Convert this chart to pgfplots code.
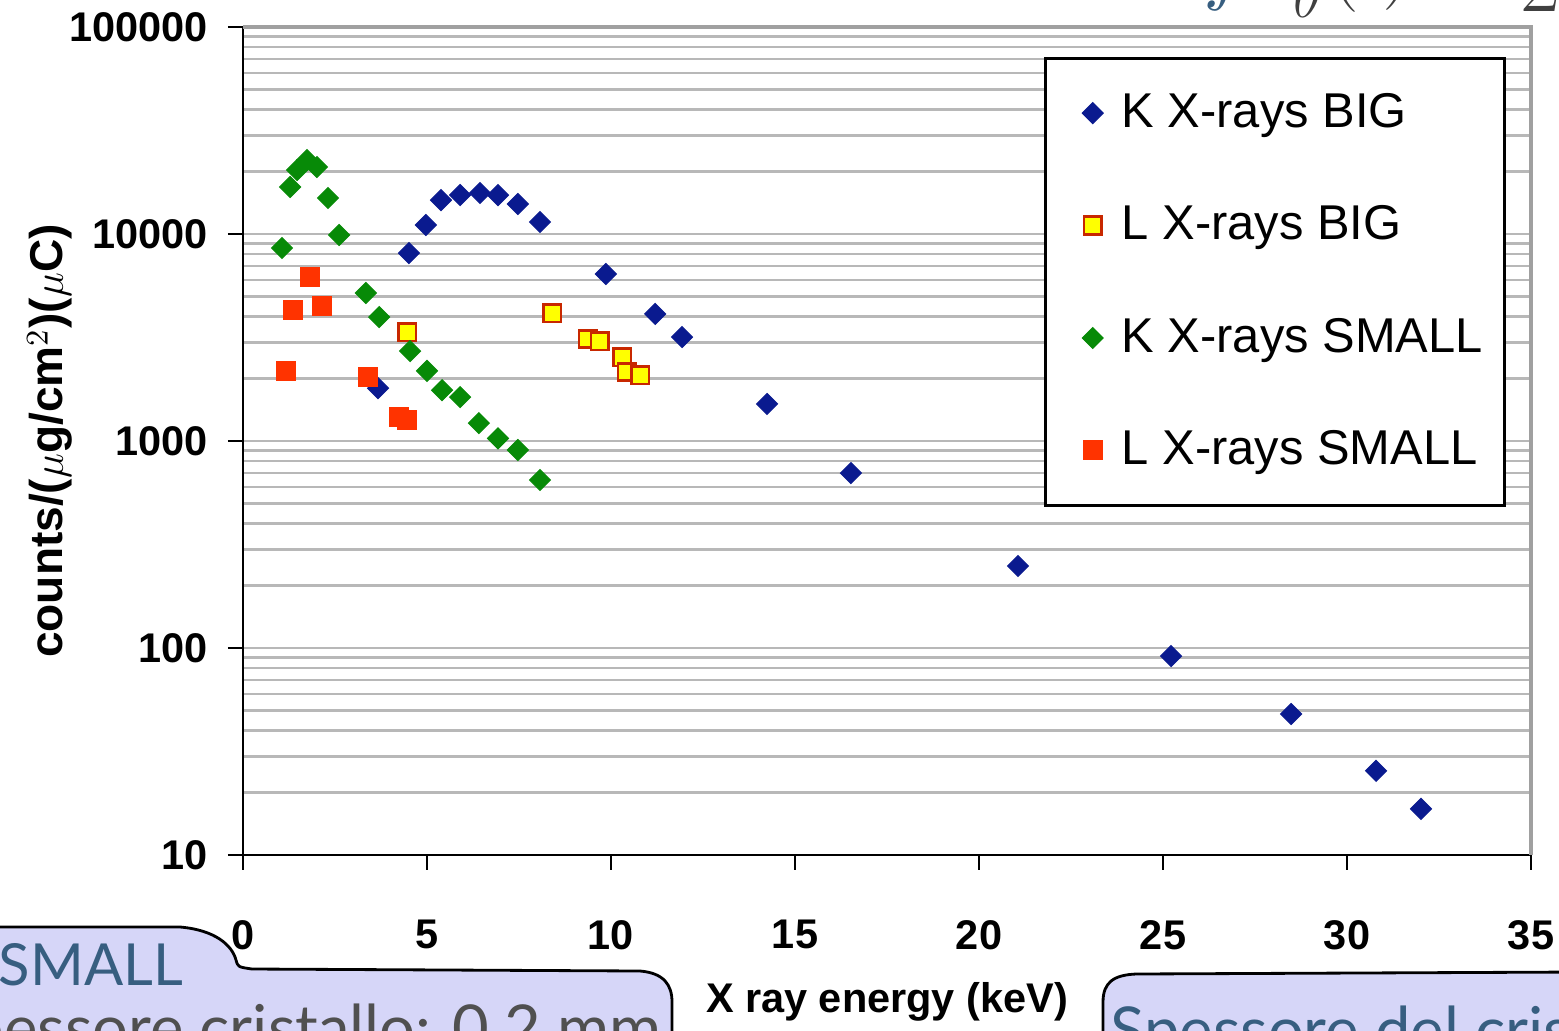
\documentclass[border=0pt]{standalone}
\usepackage{pgfplots}
\pgfplotsset{compat=1.18}
\usepackage{fontspec}
\setmainfont{Liberation Sans}
\newfontfamily\lato{Lato}

\definecolor{kbig}{HTML}{0A1A8F}
\definecolor{ksmall}{HTML}{078A07}
\definecolor{lsmall}{HTML}{FF3300}
\definecolor{lbigfill}{HTML}{FFFF00}
\definecolor{lbigedge}{HTML}{C82800}
\definecolor{gridgray}{HTML}{B8B8B8}
\definecolor{framegray}{HTML}{A0A0A0}
\definecolor{boxfill}{HTML}{D6D6F8}
\definecolor{slideblue}{HTML}{375E80}
\definecolor{slidegray}{HTML}{505050}
\definecolor{formulagray}{HTML}{404040}

% measured counts per (ug/cm^2)(uC) against X-ray energy in keV
\pgfplotstableread{
x y
3.67 1800
4.51 8090
4.97 11050
5.38 14590
5.90 15420
6.44 15780
6.93 15420
7.47 13960
8.07 11430
9.86 6410
11.20 4110
11.93 3180
14.24 1510
16.52 700
21.06 249
25.22 91.4
28.48 48
30.79 25.5
32.01 16.7
}\kbigdata

\pgfplotstableread{
x y
4.46 3360
8.40 4150
9.37 3110
9.70 3040
10.30 2545
10.43 2155
10.79 2080
}\lbigdata

\pgfplotstableread{
x y
1.06 8560
1.28 16870
1.47 20380
1.74 22770
2.01 21070
2.31 14930
2.61 9890
3.34 5190
3.70 3970
4.54 2720
5.00 2180
5.41 1760
5.90 1630
6.41 1220
6.93 1030
7.47 905
8.07 648
}\ksmalldata

\pgfplotstableread{
x y
1.17 2180
1.36 4300
1.82 6200
2.15 4490
3.40 2040
4.24 1306
4.46 1262
}\lsmalldata

\begin{document}
\begin{tikzpicture}
\useasboundingbox (0,0) rectangle (155.9mm,103mm);
\clip (0,0) rectangle (155.9mm,103mm);

\begin{axis}[
  at={(24.3mm,17.5mm)}, anchor=south west,
  width=128.8mm, height=82.8mm, scale only axis,
  xmin=0, xmax=35, ymode=log, ymin=10, ymax=100000,
  axis lines*=left,
  axis line style={black, line width=0.75pt},
  xtick={0,5,...,35}, xticklabels={0,5,10,15,20,25,30,35},
  ytick={10,100,1000,10000,100000},
  yticklabels={10,100,1000,10000,100000},
  tick align=outside, major tick length=1.5mm, minor tick length=0pt,
  tick style={black, line width=0.75pt},
  ymajorgrids, yminorgrids,
  major grid style={draw=gridgray, line width=0.8pt},
  minor grid style={draw=gridgray, line width=0.8pt},
  ticklabel style={font=\bfseries\fontsize{11.8}{12}\selectfont},
  xticklabel style={yshift=-3.8mm},
  yticklabel style={xshift=-0.8mm},
  xlabel={X ray energy (keV)},
  ylabel={counts/($\mu$g/cm$^{2}$)($\mu$C)},
  xlabel style={font=\bfseries\fontsize{11.8}{12}\selectfont,
    at={([yshift=-14.7mm]axis description cs:0.5,0)}, anchor=center},
  ylabel style={font=\bfseries\fontsize{13.1}{14}\selectfont,
    at={([xshift=-19.3mm]axis description cs:0,0.5)}, anchor=center},
  legend style={at={(rel axis cs:0.622,0.964)}, anchor=north west,
    draw=black, line width=0.9pt, fill=white,
    font=\fontsize{13.9}{17}\selectfont,
    inner xsep=1.5mm, inner ysep=2.8mm, row sep=5.9mm},
  legend cell align=left,
  legend image code/.code={%
    \draw[#1] plot coordinates {(0mm,0mm)};%
    \path[draw=none, fill=none] (-3.2mm,0mm) -- (2.2mm,0mm);},
  clip=false,
]
\draw[framegray, line width=1.2pt] (rel axis cs:0,1) -- (rel axis cs:1,1) -- (rel axis cs:1,0);

\addplot[only marks, mark=square*, mark size=0.74mm,
  mark options={rotate=45, fill=kbig, draw=kbig, line width=0.3pt}]
  table[x=x, y=y] {\kbigdata};
\addlegendentry{K X-rays BIG}

\addplot[only marks, mark=square*, mark size=0.88mm,
  mark options={fill=lbigfill, draw=lbigedge, line width=0.75pt}]
  table[x=x, y=y] {\lbigdata};
\addlegendentry{L X-rays BIG}

\addplot[only marks, mark=square*, mark size=0.74mm,
  mark options={rotate=45, fill=ksmall, draw=ksmall, line width=0.3pt}]
  table[x=x, y=y] {\ksmalldata};
\addlegendentry{K X-rays SMALL}

\addplot[only marks, mark=square*, mark size=0.95mm,
  mark options={fill=lsmall, draw=lsmall, line width=0.3pt}]
  table[x=x, y=y] {\lsmalldata};
\addlegendentry{L X-rays SMALL}
\end{axis}

% slide elements around the chart
\begin{scope}[shift={(0,103mm)}, x=0.1mm, y=-0.1mm]
  \filldraw[fill=boxfill, draw=black, line width=0.8pt]
    (-20,927) -- (180,927) .. controls (215,930) and (232,945) .. (236,960)
    .. controls (238,967) .. (252,969) -- (640,971)
    .. controls (664,973) and (672,985) .. (672,1002) -- (672,1060) -- (-20,1060) -- cycle;
  \filldraw[fill=boxfill, draw=black, line width=0.8pt]
    (1103,1060) -- (1103,1002) .. controls (1103,982) and (1114,975) .. (1136,974)
    -- (1580,972) -- (1580,1060) -- cycle;
  \node[anchor=base west, inner sep=0, text=slideblue, font=\lato\fontsize{16.5}{17}\selectfont]
    at (-2,985) {SMALL};
  \node[anchor=base east, inner sep=0, text=slidegray, font=\lato\fontsize{18}{19}\selectfont]
    at (662,1050) {Spessore cristallo: 0.2 mm};
  \node[anchor=base west, inner sep=0, text=slideblue, font=\lato\fontsize{18}{19}\selectfont]
    at (1110,1052) {Spessore del cristallo};
  % formula running off the top edge
  \node[anchor=base west, inner sep=0, text=slideblue, font=\fontsize{24}{24}\selectfont]
    at (1203,-6) {$f$};
  \node[anchor=base west, inner sep=0, text=formulagray, font=\fontsize{18}{18}\selectfont]
    at (1293,18) {$\theta$};
  \node[anchor=base west, inner sep=0, text=formulagray, font=\fontsize{24}{24}\selectfont]
    at (1328,-9) {$($};
  \node[anchor=base west, inner sep=0, text=formulagray, font=\fontsize{24}{24}\selectfont]
    at (1382,-11) {$)$};
  \node[anchor=base west, inner sep=0, text=formulagray, font=\fontsize{24}{24}\selectfont]
    at (1520,12) {$2$};
\end{scope}
\end{tikzpicture}
\end{document}
